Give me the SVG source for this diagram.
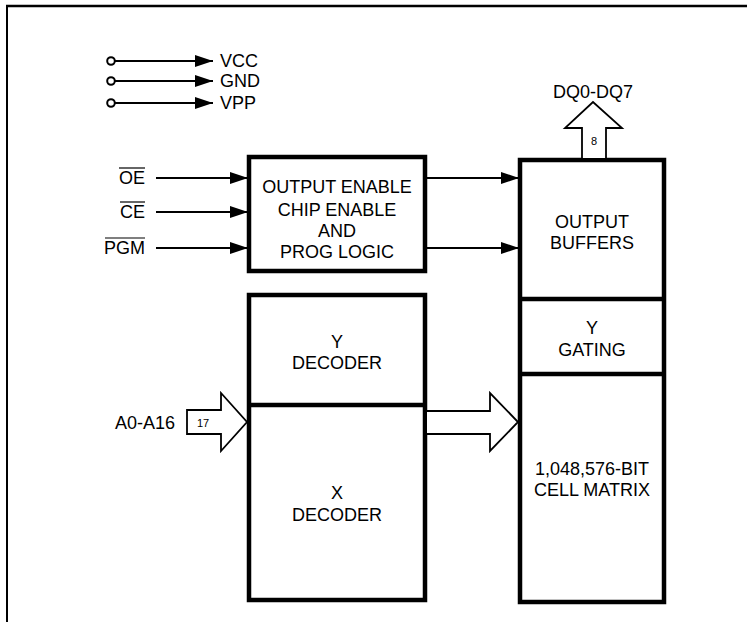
<svg xmlns="http://www.w3.org/2000/svg" width="747" height="622" viewBox="0 0 747 622">
<style>
.box{fill:#fff;stroke:#000;stroke-width:4.5}
.div{stroke:#000;stroke-width:4.5}
.t{font-family:"Liberation Sans",Arial,sans-serif;font-size:18px;fill:#000;text-anchor:middle}
.l{font-family:"Liberation Sans",Arial,sans-serif;font-size:18px;fill:#000}
.s{font-family:"Liberation Sans",Arial,sans-serif;font-size:11px;fill:#000;text-anchor:middle}
.w{stroke:#000;stroke-width:2.2;fill:none}
.bus{fill:#fff;stroke:#000;stroke-width:1.8;stroke-linejoin:miter}
.ov{stroke:#000;stroke-width:1.2}
</style>
<defs>
<marker id="ah" markerWidth="18" markerHeight="12" refX="18" refY="6" orient="auto" markerUnits="userSpaceOnUse">
<path d="M0,0 L18,6 L0,12 Z" fill="#000"/>
</marker>
</defs>
<rect width="747" height="622" fill="#fff"/>
<g id="frame">
<line x1="7" y1="5" x2="7" y2="622" stroke="#000" stroke-width="2"/>
<line x1="6" y1="6" x2="747" y2="6" stroke="#000" stroke-width="2.5"/>
</g>
<g id="power">
<circle cx="111" cy="61" r="3.8" fill="#fff" stroke="#000" stroke-width="2"/>
<circle cx="111" cy="81" r="3.8" fill="#fff" stroke="#000" stroke-width="2"/>
<circle cx="111" cy="103" r="3.8" fill="#fff" stroke="#000" stroke-width="2"/>
<text class="l" x="220" y="67">VCC</text>
<text class="l" x="220" y="87">GND</text>
<text class="l" x="220" y="109">VPP</text>
</g>
<g id="inputs">
<text class="l" x="145" y="184" text-anchor="end">OE</text>
<text class="l" x="145" y="218" text-anchor="end">CE</text>
<text class="l" x="145" y="254" text-anchor="end">PGM</text>
<line class="ov" x1="119" y1="168" x2="145" y2="168"/>
<line class="ov" x1="120" y1="202" x2="145" y2="202"/>
<line class="ov" x1="105" y1="238" x2="145" y2="238"/>
<text class="l" x="115" y="429">A0-A16</text>
</g>
<g id="logic">
<rect class="box" x="249" y="157" width="176" height="114"/>
<text class="t" x="337" y="193">OUTPUT ENABLE</text>
<text class="t" x="337" y="216">CHIP ENABLE</text>
<text class="t" x="337" y="237">AND</text>
<text class="t" x="337" y="258">PROG LOGIC</text>
</g>
<g id="decoder">
<rect class="box" x="249" y="295" width="176" height="305"/>
<line class="div" x1="249" y1="405" x2="425" y2="405"/>
<text class="t" x="337" y="348">Y</text>
<text class="t" x="337" y="369">DECODER</text>
<text class="t" x="337" y="499">X</text>
<text class="t" x="337" y="521">DECODER</text>
</g>
<g id="column">
<rect class="box" x="520" y="160" width="144" height="442"/>
<line class="div" x1="520" y1="299" x2="664" y2="299"/>
<line class="div" x1="520" y1="374" x2="664" y2="374"/>
<text class="t" x="592" y="228">OUTPUT</text>
<text class="t" x="592" y="249">BUFFERS</text>
<text class="t" x="592" y="334">Y</text>
<text class="t" x="592" y="356">GATING</text>
<text class="t" x="592" y="475">1,048,576-BIT</text>
<text class="t" x="592" y="496">CELL MATRIX</text>
</g>
<g id="connectors">
<line class="w" x1="115" y1="61" x2="213" y2="61" marker-end="url(#ah)"/>
<line class="w" x1="115" y1="81" x2="213" y2="81" marker-end="url(#ah)"/>
<line class="w" x1="115" y1="103" x2="213" y2="103" marker-end="url(#ah)"/>
<line class="w" x1="156" y1="178" x2="248" y2="178" marker-end="url(#ah)"/>
<line class="w" x1="156" y1="212" x2="248" y2="212" marker-end="url(#ah)"/>
<line class="w" x1="156" y1="248" x2="248" y2="248" marker-end="url(#ah)"/>
<line class="w" x1="427" y1="178" x2="519" y2="178" marker-end="url(#ah)"/>
<line class="w" x1="427" y1="248" x2="519" y2="248" marker-end="url(#ah)"/>
<path class="bus" d="M187,410 L221,410 L221,393 L247,422 L221,451 L221,434 L187,434 Z"/>
<text class="s" x="203" y="427">17</text>
<path class="bus" d="M427,411 L490,411 L490,393 L518,422 L490,451 L490,434 L427,434"/>
<path class="bus" d="M582,158 L582,128 L565,128 L593,102 L622,128 L606,128 L606,158"/>
<text class="s" x="594" y="145" font-size="12">8</text>
<text class="t" x="593" y="98">DQ0-DQ7</text>
</g>
</svg>
